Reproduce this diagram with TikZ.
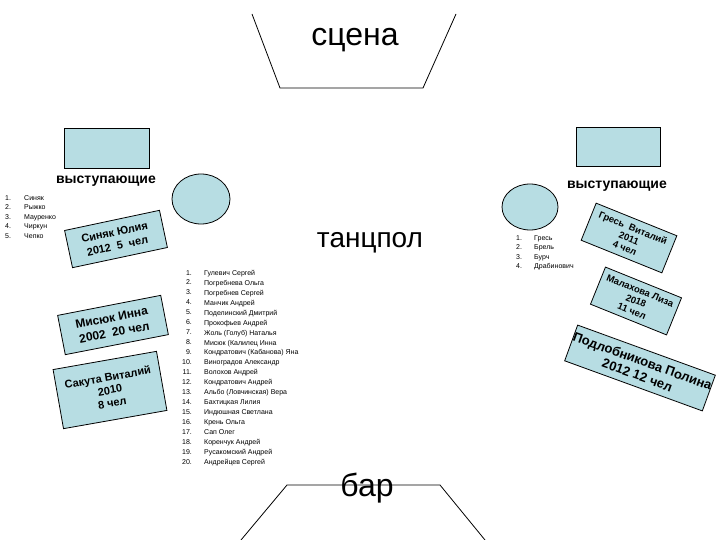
\documentclass[tikz,border=0pt]{standalone}
\usepackage{fontspec}
\setmainfont{Liberation Sans}
\usetikzlibrary{shapes.geometric}
\definecolor{lb}{HTML}{B7DDE3}
\begin{document}
\begin{tikzpicture}[x=1pt,y=-1pt,
  ln/.style={draw=black,line width=0.8pt},
  fbox/.style={draw=black,fill=lb,line width=0.8pt},
  card/.style={draw=black,fill=lb,line width=0.8pt,align=center,inner sep=0pt,font=\fontsize{11}{12}\selectfont\bfseries},
  big/.style={font=\fontsize{32}{34}\selectfont},
  hdr/.style={font=\fontsize{14}{16}\selectfont\bfseries},
  lst/.style={anchor=north west,align=left,inner sep=0pt,font=\fontsize{7}{9.5}\selectfont}]
\useasboundingbox (0,0) rectangle (720,540);
% stage
\coordinate (s1) at (252,14); \coordinate (s2) at (280,88); \coordinate (s3) at (423,88); \coordinate (s4) at (456,14);
\draw[ln] (s1) -- (s2) -- (s3) -- (s4);
\node[big] (scena) at (355,40) {сцена};
% bar
\coordinate (b1) at (241,540); \coordinate (b2) at (287,485); \coordinate (b3) at (440,485); \coordinate (b4) at (485,540);
\draw[ln] (b1) -- (b2) -- (b3) -- (b4);
\node[big,inner sep=0pt] (bar) at (367,488) {бар};
\node[font=\fontsize{28}{30}\selectfont] (tp) at (370,243) {танцпол};
% performers
\node[fbox,minimum width=85,minimum height=40,inner sep=0pt] (r1) at (107,148) {};
\node[fbox,minimum width=84,minimum height=39,inner sep=0pt] (r2) at (618,147) {};
\node[hdr] (h1) at (106,181) {выступающие};
\node[hdr] (h2) at (617,186) {выступающие};
\node[fbox,ellipse,minimum width=58,minimum height=50,inner sep=0pt] (c1) at (201,199) {};
\node[fbox,ellipse,minimum width=56,minimum height=46,inner sep=0pt] (c2) at (530,207) {};
% lists
\node[lst] (l1) at (5,195) {1.\\2.\\3.\\4.\\5.};
\node[lst] (l1n) at (24,195) {Синяк\\Рыжко\\Мауренко\\Чиркун\\Чепко};
\node[lst] (l3) at (516,235) {1.\\2.\\3.\\4.};
\node[lst] (l3n) at (534,235) {Гресь\\Брель\\Бурч\\Драбинович};
\node[lst,align=right,font=\fontsize{7}{9.95}\selectfont] (l2) at (182,270) {1.\\2.\\3.\\4.\\5.\\6.\\7.\\8.\\9.\\10.\\11.\\12.\\13.\\14.\\15.\\16.\\17.\\18.\\19.\\20.};
\node[lst,font=\fontsize{7}{9.95}\selectfont] (l2n) at (204,270) {Гулевич Сергей\\Погребнева Ольга\\Погребнев Сергей\\Манчик Андрей\\Поделинский Дмитрий\\Прокофьев Андрей\\Жоль (Голуб) Наталья\\Мисюк (Калилец Инна\\Кондратович (Кабанова) Яна\\Виноградов Александр\\Волохов Андрей\\Кондратович Андрей\\Альбо (Ловчинская) Вера\\Бахтицкая Лилия\\Индюшная Светлана\\Крень Ольга\\Сап Олег\\Коренчук Андрей\\Русакомский Андрей\\Андрейцев Сергей};
% cards left
\node[card,rotate=12,minimum width=97,minimum height=38,font=\fontsize{11}{14}\selectfont\bfseries] (k1) at (116,239) {Синяк Юлия\\2012\ \ 5\ \ чел};
\node[card,rotate=11,minimum width=105,minimum height=40,font=\fontsize{12}{15}\selectfont\bfseries] (k2) at (113,325) {Мисюк Инна\\2002\ \ 20 чел};
\node[card,rotate=10,minimum width=105,minimum height=60,font=\fontsize{11}{13}\selectfont\bfseries] (k3) at (110,390) {Сакута Виталий\\2010\\8 чел};
% cards right
\node[card,rotate=-22,minimum width=87,minimum height=40,font=\fontsize{9.5}{11}\selectfont\bfseries] (k4) at (629,238) {Гресь\ \ Виталий\\2011\\4 чел};
\node[card,rotate=-22,minimum width=82,minimum height=40,font=\fontsize{9.5}{11}\selectfont\bfseries] (k5) at (636,301) {Малахова Лиза\\2018\\11 чел};
\node[card,rotate=-20,minimum width=83,minimum height=38,font=\fontsize{13}{15}\selectfont\bfseries] (k6) at (640,368) {Подлобникова Полина\\2012\ 12 чел};
\end{tikzpicture}
\end{document}
